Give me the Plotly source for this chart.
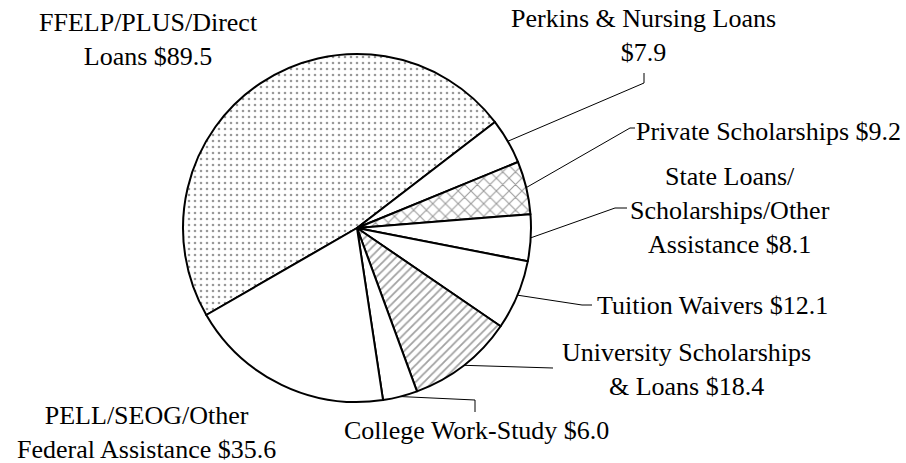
import math
import plotly.graph_objects as go

# ---- data ----
labels = [
    "FFELP/PLUS/Direct<br>Loans $89.5",
    "Perkins & Nursing Loans<br>$7.9",
    "Private Scholarships $9.2",
    "State Loans/<br>Scholarships/Other<br>Assistance $8.1",
    "Tuition Waivers $12.1",
    "University Scholarships<br>& Loans $18.4",
    "College Work-Study $6.0",
    "PELL/SEOG/Other<br>Federal Assistance $35.6",
]
values = [89.5, 7.9, 9.2, 8.1, 12.1, 18.4, 6.0, 35.6]
patterns = [".", "", "x", "", "", "/", "", ""]

# ---- layout constants (pixels) ----
W, H = 906, 463
CX, CY, R = 357, 228, 174
ROT = 240
FONT = dict(family="Liberation Serif, Times New Roman, serif", size=26, color="black")

label_pos = [(148, 39), (643, 35), (768, 131), (730, 210), (712, 305), (686, 369), (476, 430), (146, 432)]
# leader line: list of pixel points from label side toward the pie (None = no leader)
leader_pts = [None, [(644, 73), (644, 83)], [(635, 128), (630, 128)], [(627, 208), (615, 208)],
              [(592, 305), (582, 305)], [(553, 368)], [(475, 412), (475, 400)], None]

fig = go.Figure()
fig.add_trace(go.Pie(
    values=values,
    labels=[l.replace("<br>", " ") for l in labels],
    sort=False,
    direction="clockwise",
    rotation=ROT,
    textinfo="none",
    hoverinfo="skip",
    showlegend=False,
    marker=dict(
        colors=["white"] * len(values),
        line=dict(color="black", width=2),
        pattern=dict(
            shape=patterns,
            fgcolor=["#333333", "black", "#333333", "black", "black", "#444444", "black", "black"],
            bgcolor="white",
            size=[6, 8, 9, 8, 8, 6, 8, 8],
            solidity=[0.15, 0.3, 0.22, 0.3, 0.3, 0.3, 0.3, 0.3],
            fillmode="overlay",
        ),
    ),
    domain=dict(x=[(CX - R) / W, (CX + R) / W], y=[(H - CY - R) / H, (H - CY + R) / H]),
))

# hidden pixel axes for annotations and leader lines
fig.update_xaxes(range=[0, W], visible=False, fixedrange=True)
fig.update_yaxes(range=[H, 0], visible=False, fixedrange=True)

total = sum(values)
cum = 0.0
for i, v in enumerate(values):
    mid = math.radians(ROT + (cum + v / 2) / total * 360)
    cum += v
    ex, ey = CX + R * math.sin(mid), CY - R * math.cos(mid)
    tx, ty = label_pos[i]
    fig.add_annotation(x=tx, y=ty, xref="x", yref="y", text=labels[i], showarrow=False,
                       font=FONT, align="center", xanchor="center", yanchor="middle")
    if leader_pts[i]:
        pts = leader_pts[i] + [(ex, ey)]
        path = "M " + " L ".join(f"{px},{py}" for px, py in pts)
        fig.add_shape(type="path", path=path, xref="x", yref="y",
                      line=dict(color="black", width=1))

fig.update_layout(
    width=W, height=H,
    margin=dict(l=0, r=0, t=0, b=0),
    paper_bgcolor="white", plot_bgcolor="white",
)
fig.write_html("out.html", config={"displayModeBar": False},
               post_script="document.body.style.margin='0px';document.body.style.overflow='hidden';")
